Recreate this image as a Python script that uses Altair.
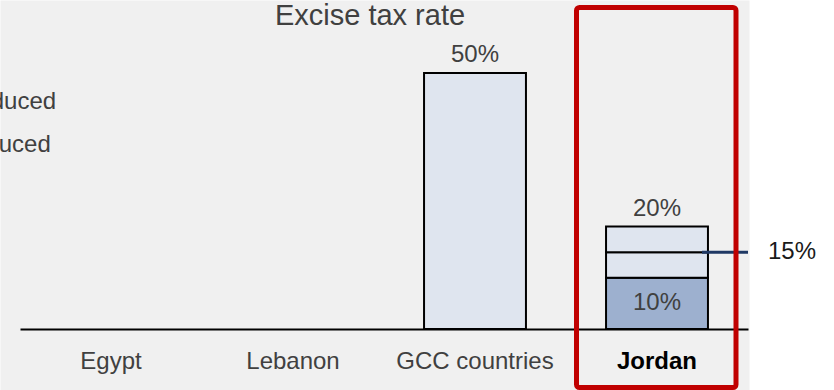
import altair as alt
import pandas as pd

FONT = "Liberation Sans"
GREY_TXT = "#404040"

# ---- data ----
categories = ["Egypt", "Lebanon", "GCC countries", "Jordan"]

seg_cat = ["GCC countries", "Jordan", "Jordan", "Jordan"]
seg_start = [0, 0, 10, 15]
seg_end = [50, 10, 15, 20]
seg_status = ["Not yet introduced", "Already introduced", "Not yet introduced", "Not yet introduced"]

legend_labels = ["Already introduced", "Not yet introduced"]
legend_colors = ["#9db0cf", "#dfe5ef"]

top_label_cat = ["GCC countries", "Jordan"]
top_label_val = [50, 20]

inner_label_cat = ["Jordan"]
inner_label_val = [10]
inner_label_mid = [5]

side_label_val = [15]

title_text = ["Excise tax rate"]

segs = pd.DataFrame({"cat": seg_cat, "start": seg_start, "end": seg_end, "status": seg_status})
tops = pd.DataFrame({"cat": top_label_cat, "value": top_label_val})
inner = pd.DataFrame({"cat": inner_label_cat, "value": inner_label_val, "mid": inner_label_mid})
side = pd.DataFrame({"value": side_label_val})
titles = pd.DataFrame({"title": title_text})

xscale = alt.Scale(domain=categories, range=[20, 748], paddingInner=0.44, paddingOuter=0.22)
yscale = alt.Scale(domain=[0, 50], range=[329, 73], nice=False, zero=False)

xaxis = alt.Axis(
    orient="bottom", offset=-61, title=None, ticks=False,
    domain=True, domainColor="black", domainWidth=2,
    labelFont=FONT, labelFontSize=24, labelPadding=20, labelAngle=0,
    labelColor=alt.ExprRef("datum.value == 'Jordan' ? 'black' : '#404040'"),
    labelFontWeight=alt.ExprRef("datum.value == 'Jordan' ? 'bold' : 'normal'"),
)

bars = alt.Chart(segs).mark_bar(stroke="black", strokeWidth=2).encode(
    x=alt.X("cat:N", scale=xscale, axis=xaxis, sort=categories),
    y=alt.Y("start:Q", scale=yscale, axis=None),
    y2="end:Q",
    fill=alt.Fill(
        "status:N",
        scale=alt.Scale(domain=legend_labels, range=legend_colors),
        legend=alt.Legend(
            title=None, orient="none", legendX=-172, legendY=90,
            symbolType="square", symbolSize=400, symbolStrokeColor="black",
            symbolStrokeWidth=1, labelFont=FONT, labelFontSize=24,
            labelColor=GREY_TXT, labelLimit=400, rowPadding=19, padding=0,
        ),
    ),
)

top_text = alt.Chart(tops).transform_calculate(
    label="datum.value + '%'"
).mark_text(font=FONT, fontSize=24, color=GREY_TXT, baseline="alphabetic", dy=-11).encode(
    x=alt.X("cat:N", scale=xscale, sort=categories),
    y=alt.Y("value:Q", scale=yscale),
    text="label:N",
)

inner_text = alt.Chart(inner).transform_calculate(
    label="datum.value + '%'"
).mark_text(font=FONT, fontSize=24, color=GREY_TXT, baseline="middle").encode(
    x=alt.X("cat:N", scale=xscale, sort=categories),
    y=alt.Y("mid:Q", scale=yscale),
    text="label:N",
)

leader = alt.Chart(side).mark_rule(color="#1f3864", strokeWidth=3).encode(
    x=alt.value(702), x2=alt.value(748),
    y=alt.Y("value:Q", scale=yscale),
)

side_text = alt.Chart(side).transform_calculate(
    label="datum.value + '%'"
).mark_text(font=FONT, fontSize=24, color="#1a1a1a", baseline="middle", align="left").encode(
    x=alt.value(768),
    y=alt.Y("value:Q", scale=yscale),
    text="label:N",
)

title_mark = alt.Chart(titles).mark_text(
    font=FONT, fontSize=29, color=GREY_TXT, baseline="alphabetic", align="center"
).encode(
    x=alt.value(370), y=alt.value(25),
    text="title:N",
)

box = alt.Chart(side).mark_rect(
    fill="transparent", stroke="#c00000", strokeWidth=5, cornerRadius=3
).encode(
    x=alt.value(576.5), x2=alt.value(736),
    y=alt.value(7.5), y2=alt.value(387.5),
)

chart = alt.layer(bars, top_text, inner_text, leader, side_text, title_mark, box).properties(
    width=749, height=390,
    autosize=alt.AutoSizeParams(type="none"),
    padding={"left": 0, "top": 0, "right": 85, "bottom": 0},
    background="white",
).configure_view(fill="#f0f0f0", stroke="transparent")

chart.save("out.html", embed_options={"renderer": "svg", "actions": False})
